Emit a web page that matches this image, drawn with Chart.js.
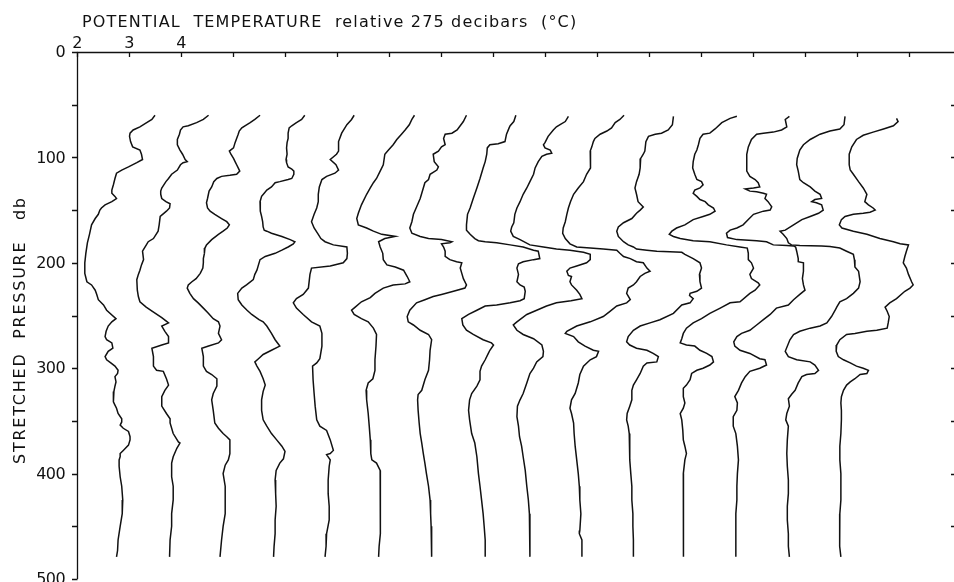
<!DOCTYPE html>
<html>
<head>
<meta charset="utf-8">
<title>Potential temperature profiles</title>
<script src="https://cdn.jsdelivr.net/npm/chart.js@4.4.1/dist/chart.umd.min.js"></script>
<style>
  html, body { margin: 0; padding: 0; background: #fff; }
  #wrap { width: 954px; height: 582px; }
  canvas { display: block; }
</style>
</head>
<body>
<div id="wrap"><canvas id="chart" width="954" height="582"></canvas></div>
<script>
// Potential temperature (relative to its value at 275 db) plotted against
// stretched pressure for 15 stations; each station is shifted by 1 °C.
// Each reading is [pressure (db), temperature on the plotted axis (°C)].
const station01 = [[60,3.50],[64,3.44],[67,3.34],[71,3.21],[74,3.08],[77,3.02],[80,3.01],[85,3.03],[90,3.07],[93,3.21],[97,3.24],[102,3.26],[105,3.15],[109,2.99],[112,2.86],[115,2.76],[120,2.73],[126,2.70],[131,2.67],[134,2.67],[137,2.73],[139,2.76],[142,2.67],[145,2.54],[148,2.47],[150,2.44],[154,2.41],[158,2.35],[164,2.28],[173,2.24],[181,2.20],[191,2.17],[200,2.15],[210,2.15],[218,2.19],[221,2.28],[226,2.35],[230,2.38],[235,2.41],[240,2.51],[245,2.57],[253,2.75],[256,2.67],[260,2.60],[265,2.56],[270,2.54],[273,2.57],[276,2.67],[281,2.69],[284,2.60],[289,2.54],[292,2.57],[295,2.65],[298,2.73],[302,2.79],[305,2.78],[308,2.73],[313,2.75],[317,2.73],[322,2.71],[327,2.70],[332,2.70],[335,2.73],[338,2.76],[343,2.79],[348,2.86],[351,2.86],[354,2.83],[357,2.89],[360,2.99],[365,3.02],[368,3.02],[373,2.99],[378,2.89],[381,2.83],[384,2.83],[387,2.81],[393,2.81],[403,2.83],[412,2.86],[425,2.88],[438,2.87],[450,2.83],[463,2.79],[473,2.78],[479,2.76]];
const station02 = [[60,4.53],[64,4.43],[67,4.30],[70,4.14],[71,4.04],[74,3.99],[78,3.97],[83,3.93],[88,3.93],[93,3.98],[97,4.03],[102,4.08],[104,4.12],[105,4.04],[107,3.99],[112,3.93],[116,3.82],[120,3.76],[123,3.71],[126,3.67],[129,3.63],[132,3.61],[135,3.61],[139,3.63],[142,3.71],[144,3.79],[148,3.78],[151,3.72],[156,3.60],[164,3.58],[170,3.56],[177,3.47],[180,3.37],[185,3.31],[189,3.26],[197,3.28],[202,3.24],[207,3.21],[211,3.18],[216,3.15],[226,3.16],[232,3.18],[237,3.21],[242,3.33],[246,3.45],[252,3.63],[257,3.76],[260,3.63],[265,3.69],[270,3.76],[276,3.76],[278,3.63],[281,3.44],[289,3.47],[298,3.47],[302,3.53],[303,3.66],[310,3.72],[316,3.76],[321,3.69],[327,3.63],[336,3.63],[343,3.72],[348,3.79],[352,3.79],[362,3.85],[370,3.95],[371,3.98],[376,3.92],[384,3.85],[390,3.82],[403,3.82],[412,3.85],[425,3.85],[438,3.82],[450,3.82],[463,3.79],[479,3.78]];
const station03 = [[60,5.52],[64,5.42],[67,5.33],[70,5.23],[72,5.17],[75,5.12],[78,5.10],[82,5.07],[86,5.04],[91,5.01],[94,4.93],[97,4.96],[101,5.01],[104,5.04],[107,5.07],[110,5.10],[113,5.13],[116,5.07],[117,4.94],[118,4.78],[120,4.69],[123,4.63],[128,4.59],[132,4.54],[139,4.51],[143,4.49],[148,4.51],[151,4.56],[154,4.65],[158,4.78],[161,4.88],[164,4.93],[167,4.89],[170,4.81],[173,4.72],[178,4.59],[183,4.49],[186,4.46],[191,4.45],[196,4.43],[200,4.43],[205,4.42],[210,4.37],[215,4.29],[218,4.21],[221,4.14],[224,4.12],[229,4.17],[234,4.24],[238,4.33],[243,4.43],[248,4.53],[253,4.62],[256,4.72],[260,4.75],[267,4.72],[273,4.78],[276,4.72],[279,4.53],[281,4.40],[289,4.43],[298,4.43],[303,4.49],[306,4.59],[310,4.69],[317,4.69],[324,4.62],[330,4.59],[340,4.62],[352,4.65],[357,4.72],[362,4.81],[365,4.88],[368,4.94],[381,4.94],[387,4.91],[392,4.85],[400,4.81],[412,4.85],[425,4.85],[438,4.85],[450,4.81],[463,4.78],[479,4.75]];
const station04 = [[60,6.38],[64,6.32],[67,6.22],[70,6.13],[72,6.08],[77,6.06],[82,6.06],[86,6.04],[91,6.03],[97,6.04],[102,6.02],[105,6.03],[109,6.06],[111,6.13],[113,6.17],[116,6.17],[120,6.13],[121,6.06],[123,5.90],[124,5.81],[128,5.74],[131,5.65],[134,5.60],[137,5.55],[142,5.52],[147,5.52],[151,5.53],[156,5.55],[161,5.57],[166,5.58],[169,5.60],[170,5.65],[172,5.74],[175,5.94],[178,6.10],[180,6.19],[182,6.16],[185,6.06],[188,5.94],[191,5.81],[194,5.62],[197,5.52],[202,5.49],[207,5.46],[211,5.42],[216,5.39],[221,5.26],[224,5.17],[229,5.09],[235,5.10],[240,5.17],[245,5.27],[249,5.36],[254,5.50],[256,5.58],[260,5.65],[267,5.74],[273,5.81],[279,5.90],[283,5.74],[287,5.58],[291,5.49],[294,5.42],[298,5.46],[303,5.52],[310,5.58],[316,5.62],[322,5.58],[330,5.55],[340,5.55],[349,5.58],[355,5.65],[362,5.74],[368,5.84],[374,5.94],[379,6.00],[386,5.97],[390,5.90],[397,5.83],[406,5.81],[419,5.82],[431,5.83],[444,5.81],[457,5.81],[469,5.79],[479,5.78]];
const station05 = [[60,7.33],[64,7.28],[69,7.19],[77,7.09],[85,7.03],[94,7.03],[97,6.99],[102,6.87],[107,6.98],[112,7.03],[115,6.96],[118,6.80],[121,6.71],[128,6.66],[135,6.64],[142,6.64],[148,6.61],[154,6.56],[161,6.51],[167,6.56],[173,6.64],[177,6.69],[180,6.77],[183,6.93],[185,7.19],[191,7.20],[196,7.19],[200,7.12],[203,6.87],[205,6.51],[211,6.48],[224,6.45],[230,6.35],[234,6.22],[238,6.16],[243,6.22],[249,6.35],[256,6.51],[260,6.67],[267,6.71],[279,6.71],[291,6.67],[295,6.61],[298,6.53],[311,6.54],[324,6.56],[336,6.58],[349,6.61],[355,6.67],[359,6.80],[368,6.87],[378,6.93],[381,6.87],[382,6.80],[387,6.87],[393,6.85],[406,6.83],[419,6.83],[431,6.85],[444,6.85],[457,6.80],[469,6.79],[479,6.77]];
const station06 = [[60,8.49],[64,8.44],[69,8.39],[74,8.31],[78,8.24],[83,8.15],[88,8.08],[93,7.99],[97,7.92],[107,7.89],[113,7.83],[120,7.76],[124,7.70],[129,7.64],[135,7.57],[145,7.47],[153,7.41],[158,7.38],[164,7.41],[167,7.57],[170,7.70],[173,7.86],[175,8.12],[177,7.92],[180,7.80],[185,7.83],[191,7.88],[197,7.89],[202,7.96],[204,8.12],[207,8.28],[213,8.35],[218,8.40],[220,8.31],[221,8.08],[224,7.89],[229,7.73],[233,7.64],[237,7.47],[242,7.35],[245,7.28],[249,7.33],[253,7.47],[256,7.60],[262,7.70],[268,7.76],[279,7.75],[292,7.73],[302,7.73],[310,7.69],[314,7.60],[321,7.56],[330,7.57],[343,7.60],[355,7.62],[368,7.64],[381,7.65],[387,7.67],[390,7.76],[397,7.83],[406,7.84],[419,7.83],[431,7.83],[444,7.84],[457,7.83],[469,7.81],[479,7.80]];
const station07 = [[60,9.49],[66,9.43],[74,9.31],[77,9.21],[78,9.08],[82,9.05],[88,9.08],[90,9.01],[94,8.95],[97,8.85],[104,8.87],[109,8.95],[112,8.92],[116,8.79],[121,8.76],[124,8.69],[129,8.66],[139,8.60],[147,8.53],[154,8.47],[161,8.44],[167,8.40],[172,8.44],[175,8.60],[177,8.76],[178,9.01],[180,9.21],[181,9.17],[182,9.01],[185,9.05],[189,9.08],[194,9.08],[197,9.17],[199,9.30],[200,9.40],[205,9.37],[210,9.40],[215,9.43],[221,9.49],[224,9.46],[227,9.24],[230,9.01],[232,8.85],[235,8.69],[238,8.53],[245,8.40],[251,8.35],[256,8.37],[259,8.47],[264,8.60],[268,8.76],[273,8.82],[283,8.79],[292,8.78],[302,8.76],[311,8.69],[321,8.63],[325,8.56],[330,8.55],[340,8.56],[352,8.58],[362,8.60],[371,8.63],[381,8.66],[390,8.69],[400,8.72],[412,8.76],[425,8.79],[438,8.80],[450,8.81],[463,8.82],[479,8.82]];
const station08 = [[60,10.44],[66,10.40],[70,10.33],[72,10.31],[78,10.26],[85,10.23],[87,10.10],[88,9.94],[91,9.89],[97,9.88],[104,9.85],[110,9.81],[120,9.75],[129,9.69],[139,9.62],[148,9.56],[154,9.51],[164,9.49],[169,9.49],[173,9.56],[177,9.65],[179,9.72],[180,9.85],[181,10.07],[183,10.33],[185,10.58],[188,10.78],[189,10.87],[196,10.90],[197,10.78],[199,10.58],[201,10.49],[205,10.46],[211,10.49],[218,10.46],[221,10.52],[223,10.60],[227,10.62],[234,10.60],[236,10.52],[238,10.33],[240,10.07],[241,9.85],[245,9.69],[249,9.53],[253,9.40],[259,9.42],[264,9.49],[268,9.62],[273,9.81],[276,9.97],[278,10.01],[283,9.94],[286,9.91],[292,9.85],[298,9.78],[303,9.75],[311,9.75],[317,9.69],[324,9.59],[330,9.55],[340,9.53],[349,9.55],[362,9.59],[371,9.65],[384,9.69],[400,9.72],[412,9.75],[425,9.78],[438,9.81],[450,9.83],[463,9.85],[479,9.85]];
const station09 = [[61,11.45],[66,11.39],[69,11.29],[71,11.22],[74,11.16],[80,11.06],[86,11.00],[88,10.97],[91,11.00],[93,11.10],[96,11.13],[97,11.03],[99,10.94],[104,10.87],[110,10.81],[116,10.78],[123,10.71],[129,10.65],[135,10.58],[142,10.52],[148,10.46],[154,10.42],[162,10.40],[166,10.36],[170,10.34],[175,10.39],[178,10.52],[183,10.71],[185,10.97],[187,11.22],[188,11.48],[190,11.74],[192,11.87],[197,11.87],[200,11.80],[203,11.61],[205,11.48],[208,11.42],[212,11.45],[213,11.51],[218,11.48],[221,11.51],[226,11.61],[230,11.67],[234,11.71],[236,11.50],[238,11.22],[241,11.03],[245,10.84],[249,10.65],[256,10.46],[259,10.39],[264,10.46],[268,10.58],[272,10.78],[278,10.94],[284,10.97],[289,10.96],[294,10.84],[300,10.78],[305,10.71],[314,10.65],[324,10.58],[330,10.52],[336,10.47],[346,10.46],[355,10.49],[365,10.51],[374,10.55],[384,10.58],[397,10.62],[412,10.65],[425,10.68],[438,10.70],[450,10.71],[463,10.71],[479,10.71]];
const station10 = [[60,12.52],[64,12.44],[67,12.35],[72,12.28],[75,12.19],[78,12.06],[82,11.96],[85,11.93],[90,11.90],[94,11.87],[104,11.88],[110,11.87],[116,11.80],[123,11.74],[129,11.64],[135,11.55],[142,11.49],[148,11.45],[154,11.42],[161,11.39],[167,11.35],[172,11.34],[177,11.39],[182,11.48],[185,11.61],[186,11.87],[187,12.12],[188,12.38],[191,12.44],[194,12.51],[196,12.64],[199,12.76],[200,12.89],[205,12.96],[208,13.02],[210,12.92],[213,12.83],[218,12.76],[221,12.70],[224,12.60],[229,12.57],[235,12.64],[238,12.57],[241,12.38],[246,12.25],[251,12.12],[256,11.87],[260,11.61],[265,11.42],[267,11.39],[270,11.55],[275,11.64],[279,11.77],[283,11.93],[284,12.03],[289,11.99],[292,11.87],[298,11.74],[306,11.67],[314,11.64],[324,11.58],[330,11.51],[338,11.48],[343,11.51],[352,11.55],[362,11.56],[374,11.58],[387,11.61],[400,11.64],[412,11.66],[425,11.67],[438,11.69],[454,11.67],[457,11.66],[463,11.71],[479,11.71]];
const station11 = [[61,13.47],[69,13.45],[74,13.37],[77,13.24],[78,13.12],[80,12.99],[85,12.94],[94,12.92],[97,12.89],[101,12.84],[110,12.83],[116,12.81],[123,12.76],[129,12.73],[135,12.76],[142,12.79],[147,12.89],[150,12.83],[153,12.76],[158,12.67],[162,12.51],[166,12.41],[170,12.38],[175,12.41],[180,12.51],[183,12.60],[185,12.70],[187,12.76],[188,12.96],[189,13.15],[189.5,13.40],[190,13.63],[192,13.69],[196,13.85],[200,13.98],[205,14.01],[211,13.97],[218,13.98],[224,14.01],[227,13.92],[229,13.79],[231,13.78],[234,13.85],[238,13.79],[240,13.63],[248,13.47],[254,13.21],[257,13.02],[260,12.83],[264,12.70],[270,12.60],[275,12.57],[278,12.63],[281,12.76],[283,12.96],[286,13.08],[289,13.18],[294,13.15],[295,12.96],[298,12.89],[305,12.83],[311,12.76],[316,12.70],[321,12.67],[330,12.67],[336,12.63],[343,12.58],[349,12.57],[355,12.60],[362,12.62],[374,12.63],[387,12.63],[400,12.65],[412,12.67],[425,12.67],[438,12.69],[450,12.69],[463,12.70],[479,12.70]];
const station12 = [[61,14.69],[63,14.56],[67,14.40],[73,14.27],[77,14.17],[78,14.04],[82,13.98],[88,13.95],[93,13.92],[97,13.88],[104,13.85],[110,13.84],[116,13.88],[121,13.92],[123,14.01],[126,14.04],[129,13.98],[131,13.88],[134,13.85],[137,13.92],[140,13.98],[142,14.08],[145,14.14],[148,14.24],[151,14.27],[154,14.17],[156,14.04],[159,13.85],[164,13.69],[167,13.53],[170,13.44],[173,13.39],[175,13.47],[177,13.60],[179,13.85],[180,14.17],[183,14.49],[185,14.75],[186,14.89],[191,14.91],[197,14.91],[200,14.97],[205,15.01],[211,14.94],[215,14.97],[219,15.10],[221,15.13],[226,15.04],[229,14.94],[237,14.75],[238,14.56],[243,14.37],[248,14.17],[253,14.01],[257,13.85],[262,13.72],[267,13.66],[272,13.63],[276,13.60],[278,13.72],[279,13.88],[283,13.98],[286,14.11],[289,14.21],[294,14.24],[297,14.17],[300,14.04],[302,13.92],[305,13.82],[311,13.79],[316,13.72],[319,13.66],[327,13.66],[333,13.69],[338,13.66],[343,13.60],[349,13.63],[359,13.65],[368,13.66],[374,13.69],[381,13.72],[387,13.69],[400,13.66],[425,13.66],[450,13.66],[463,13.66],[479,13.67]];
const station13 = [[61,15.70],[64,15.62],[71,15.65],[74,15.55],[76,15.39],[77,15.20],[78,15.07],[83,14.97],[90,14.91],[97,14.88],[107,14.88],[113,14.88],[118,14.94],[121,15.04],[124,15.10],[128,15.13],[129,15.01],[130,14.85],[132,14.94],[132.5,15.07],[134,15.20],[135,15.26],[139,15.23],[142,15.29],[147,15.36],[150,15.33],[151,15.20],[154,15.01],[159,14.91],[164,14.81],[167,14.69],[169,14.56],[172,14.49],[176,14.51],[178,14.69],[179,15.07],[180,15.26],[183,15.39],[183.6,15.65],[184,15.78],[185,15.82],[189,15.84],[196,15.87],[199,15.87],[200,15.97],[208,15.97],[215,15.95],[221,15.97],[226,16.00],[230,15.90],[235,15.78],[240,15.68],[243,15.45],[249,15.33],[254,15.20],[259,15.07],[264,14.94],[267,14.78],[270,14.69],[275,14.63],[279,14.65],[283,14.75],[286,14.94],[291,15.13],[292,15.23],[297,15.26],[300,15.13],[303,14.94],[308,14.85],[314,14.78],[321,14.72],[327,14.65],[333,14.70],[340,14.69],[346,14.62],[355,14.62],[362,14.67],[374,14.70],[387,14.72],[400,14.70],[412,14.69],[425,14.69],[438,14.67],[463,14.67],[479,14.67]];
const station14 = [[61,16.77],[69,16.75],[73,16.67],[75,16.48],[78,16.29],[83,16.10],[88,15.97],[93,15.90],[101,15.85],[107,15.84],[113,15.87],[121,15.90],[124,15.97],[128,16.10],[132,16.19],[135,16.29],[139,16.32],[140,16.19],[142,16.13],[143,16.22],[145,16.32],[150,16.35],[153,16.26],[156,16.10],[159,15.94],[164,15.78],[169,15.62],[170,15.52],[173,15.58],[177,15.65],[181,15.68],[183,15.74],[183.6,15.90],[184,16.32],[184.5,16.48],[186,16.67],[189,16.80],[192,16.93],[197,16.95],[204,16.96],[208,17.03],[218,17.06],[224,17.03],[229,16.93],[234,16.80],[237,16.67],[242,16.61],[245,16.58],[251,16.51],[257,16.42],[260,16.29],[262,16.10],[265,15.90],[268,15.78],[273,15.71],[284,15.62],[289,15.68],[292,15.84],[294,16.10],[297,16.19],[302,16.26],[305,16.19],[306,16.03],[308,15.94],[314,15.87],[321,15.81],[325,15.74],[329,15.68],[336,15.70],[343,15.65],[349,15.63],[355,15.68],[368,15.66],[381,15.65],[393,15.66],[406,15.68],[419,15.68],[431,15.66],[444,15.66],[457,15.68],[469,15.68],[479,15.70]];
const station15 = [[63,17.76],[66,17.79],[70,17.70],[73,17.51],[76,17.31],[79,17.12],[83,16.99],[90,16.90],[97,16.85],[107,16.85],[112,16.87],[116,16.93],[123,17.03],[129,17.12],[135,17.19],[142,17.15],[145,17.22],[148,17.31],[150,17.35],[152,17.25],[153,17.12],[154,16.93],[156,16.77],[159,16.70],[164,16.66],[167,16.71],[170,16.93],[173,17.19],[177,17.44],[180,17.70],[182,17.83],[183,17.99],[189,17.95],[194,17.92],[200,17.89],[205,17.95],[211,17.99],[218,18.05],[221,18.08],[224,18.02],[227,17.92],[234,17.76],[238,17.63],[242,17.54],[246,17.58],[251,17.62],[257,17.60],[262,17.58],[264,17.38],[265,17.19],[267,16.96],[268,16.80],[273,16.67],[278,16.61],[284,16.60],[289,16.64],[292,16.74],[295,16.87],[298,16.99],[300,17.12],[302,17.22],[305,17.19],[306,17.06],[310,16.96],[313,16.87],[316,16.80],[321,16.74],[327,16.70],[333,16.69],[340,16.70],[349,16.70],[362,16.69],[374,16.67],[387,16.67],[400,16.69],[412,16.69],[425,16.69],[438,16.67],[450,16.67],[463,16.67],[469,16.66],[479,16.69]];

const stations = [station01, station02, station03, station04, station05, station06, station07, station08,
                  station09, station10, station11, station12, station13, station14, station15];

// Axis ticks and labels
const tempTicks = [2, 3, 4, 5, 6, 7, 8, 9, 10, 11, 12, 13, 14, 15, 16, 17, 18];
const tempTickLabels = ['2', '3', '4'];
const pressureLabels = [0, 100, 200, 300, 400, 500];
const pressureMinorTicks = [50, 150, 250, 350, 450];
const xTitle = 'POTENTIAL  TEMPERATURE  relative 275 decibars  (\u00B0C)';
const yTitle = 'STRETCHED  PRESSURE   db';

const INK = '#111111';
const FONT = '"DejaVu Sans", "Liberation Sans", sans-serif';

// Draws text so that it spans a given length, spreading the letters evenly.
function fillSpread(ctx, text, x, y, length) {
  ctx.letterSpacing = '0px';
  const natural = ctx.measureText(text).width;
  ctx.letterSpacing = ((length - natural) / (text.length - 1)).toFixed(2) + 'px';
  ctx.fillText(text, x, y);
  ctx.letterSpacing = '0px';
}

// Frame, tick marks and lettering, placed with the chart's own scales.
const frameAndLettering = {
  id: 'frameAndLettering',
  afterDraw(chart) {
    const { ctx, chartArea: a } = chart;
    const xs = chart.scales.x, ys = chart.scales.y;
    ctx.save();
    ctx.strokeStyle = INK;
    ctx.fillStyle = INK;
    ctx.lineWidth = 1.3;
    ctx.lineCap = 'butt';

    // left and top axis lines
    ctx.beginPath();
    ctx.moveTo(a.left + 0.5, a.bottom);
    ctx.lineTo(a.left + 0.5, a.top + 0.5);
    ctx.lineTo(a.right, a.top + 0.5);
    ctx.stroke();

    // temperature ticks, pointing down into the plot
    ctx.beginPath();
    tempTicks.forEach(v => {
      const px = Math.round(xs.getPixelForValue(v)) + 0.5;
      ctx.moveTo(px, a.top);
      ctx.lineTo(px, a.top + 5);
    });
    // pressure ticks on the left, pointing outward
    [...pressureLabels, ...pressureMinorTicks].forEach(v => {
      const py = Math.round(ys.getPixelForValue(v)) + 0.5;
      ctx.moveTo(a.left + 0.5, py);
      ctx.lineTo(a.left - 5, py);
    });
    // pressure ticks along the right edge
    pressureLabels.concat(pressureMinorTicks).filter(v => v > 0 && v < 500).forEach(v => {
      const py = Math.round(ys.getPixelForValue(v)) + 0.5;
      ctx.moveTo(a.right, py);
      ctx.lineTo(a.right - 3, py);
    });
    ctx.stroke();

    ctx.font = '16px ' + FONT;
    ctx.letterSpacing = '-0.6px';
    // temperature tick labels
    ctx.textAlign = 'center';
    ctx.textBaseline = 'alphabetic';
    tempTickLabels.forEach((lbl, i) => {
      ctx.fillText(lbl, xs.getPixelForValue(tempTicks[i]), a.top - 4);
    });
    // pressure tick labels
    ctx.textAlign = 'right';
    ctx.textBaseline = 'middle';
    pressureLabels.forEach(v => {
      ctx.fillText(String(v), a.left - 12, ys.getPixelForValue(v) + 1);
    });
    ctx.letterSpacing = '0px';

    // axis titles
    ctx.textAlign = 'left';
    ctx.textBaseline = 'alphabetic';
    fillSpread(ctx, xTitle, a.left + 5, 27, 494);

    ctx.save();
    ctx.translate(25, 464);
    ctx.rotate(-Math.PI / 2);
    fillSpread(ctx, yTitle, 0, 0, 266);
    ctx.restore();

    ctx.restore();
  }
};

const datasets = stations.map((readings, i) => ({
  label: 'Station ' + (i + 1),
  data: readings.map(([p, t]) => ({ x: t, y: p })),
  showLine: true,
  borderColor: INK,
  borderWidth: 1.5,
  pointRadius: 0,
  pointHoverRadius: 0,
  tension: 0,
  fill: false
}));

new Chart(document.getElementById('chart'), {
  type: 'scatter',
  data: { datasets },
  options: {
    responsive: false,
    animation: false,
    devicePixelRatio: 1,
    layout: { padding: { left: 77, top: 52, right: 0, bottom: 3 } },
    plugins: { legend: { display: false }, tooltip: { enabled: false }, title: { display: false } },
    events: [],
    scales: {
      x: { type: 'linear', display: false, min: 2, max: 2 + 877 / 52 },
      y: { type: 'linear', display: false, min: 0, max: 500, reverse: true }
    }
  },
  plugins: [frameAndLettering]
});
</script>
</body>
</html>
